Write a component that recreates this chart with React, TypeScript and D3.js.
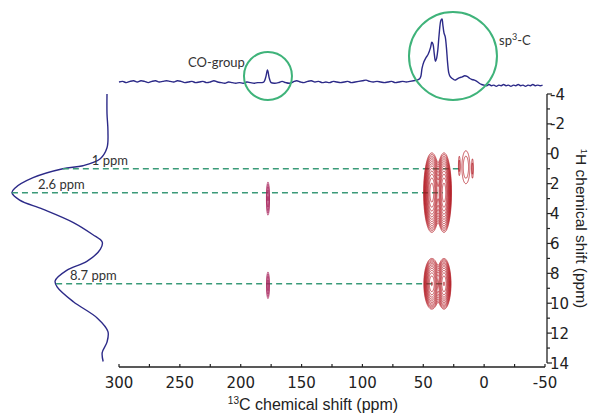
import React from "react";
import * as d3 from "d3";

// ---------- data ----------
// 13C projection (top): [ppm, intensity]
const topSpectrum: [number, number][] = [
  [300,0],[297,1],[294,-1],[291,1],[288,2],[285,0],[282,2],[279,1],[276,-1],[273,1],[270,2],[267,0],[264,1],[261,2],[258,1],[255,0],[252,2],[249,1],[246,-1],[243,0],[240,1],[237,-1],[234,0],[231,1],[228,-1],[225,0],[222,2],[219,0],[216,-1],[213,-2],[210,0],[207,-1],[204,-2],[201,-1],[198,-2],[195,0],[192,-1],[189,-2],[186,-1],[183,-1],[181,0],[179.5,7],[178,19],[176.5,6],[175,-1],[172,-2],[169,-1],[166,1],[163,-1],[160,-2],[157,0],[154,2],[151,0],[148,-1],[145,1],[142,2],[139,0],[136,1],[133,-1],[130,0],[127,-1],[124,1],[121,0],[118,-1],[115,0],[112,1],[109,-1],[106,0],[103,1],[100,2],[97,3],[94,1],[91,0],[88,1],[85,0],[82,-1],[79,0],[76,1],[73,-1],[70,0],[67,1],[64,0],[61,1],[58,2],[55,3],[53,5],[52,9],[51,22],[49.5,32],[48,38],[46,44],[44,55],[43,63],[42,60],[41,45],[40,33],[39,38],[38,52],[37,75],[35.5,98],[34.6,100],[34,92],[33,78],[32,72],[31,55],[30,30],[29,14],[28,9],[26.5,6],[24,3],[22,5],[20,7],[18,8],[16,10],[14,9],[12,6],[10,4],[8,3],[6,1],[4,-2],[2,-4],[0,-5],[-2,-6],[-4,-4],[-6,-6],[-8,-5],[-10,-7],[-12,-5],[-14,-6],[-16,-4],[-18,-6],[-20,-5],[-22,-7],[-24,-5],[-26,-6],[-28,-4],[-30,-6],[-32,-5],[-34,-7],[-36,-5],[-38,-6],[-40,-4],[-42,-6],[-44,-5],[-46,-6],[-48,-5]
];

// 1H projection (left): [ppm, intensity]
const leftSpectrum: [number, number][] = [
  [-4,0],[-2.7,0],[-1.5,-1],[-0.4,0],[0.33,7],[0.8,25],[1.0,46],[1.6,77],[2.3,96],[2.6,99],[3.1,91],[3.7,67],[4.6,35],[5.4,15],[5.9,5],[6.4,7],[7.2,21],[7.8,42],[8.5,54],[8.9,52],[9.9,35],[11,10],[11.9,-1],[12.6,0],[13.3,5],[13.9,4]
];

// 2D cross peaks
const peakC13 = [43, 33, 43, 33, 15, 20.5, 9.5];
const peakH1 = [2.6, 2.6, 8.7, 8.7, 0.9, 0.8, 1.0];
const peakAmp = [1, 1, 0.6, 0.6, 0.035, 0.025, 0.025];
const peakWidthC = [2.4, 2.2, 2.5, 2.2, 3.1, 0.6, 0.6];
const peakWidthH = [0.95, 0.95, 0.65, 0.65, 1.04, 0.6, 0.6];

const coPeakC13 = [177.6, 177.6];
const coPeakH1 = [3.0, 8.8];
const coPeakAmp = [0.07, 0.06];
const coPeakWidthC = [0.8, 0.8];
const coPeakWidthH = [0.7, 0.6];

const contourLevels = d3.range(13).map((k) => 0.02 * Math.pow(1.36, k));

// correlation lines
const dashH1 = [1, 2.6, 8.7];
const dashEndC13 = [20, 34, 34];
const dashLabels = ["1 ppm", "2.6 ppm", "8.7 ppm"];

const xTicks = [300, 250, 200, 150, 100, 50, 0, -50];
const xMinorTicks = d3.range(300, -51, -25);
const yTicks = [-4, -2, 0, 2, 4, 6, 8, 10, 12, 14];
const yMinorTicks = d3.range(-4, 15, 1);

// ---------- layout ----------
const W = 592, H = 414;
const xScale = d3.scaleLinear().domain([300, -50]).range([119, 545]);
const yScale = d3.scaleLinear().domain([-4, 14]).range([94, 363]);
const topScale = d3.scaleLinear().domain([0, 100]).range([82, 19]);
const leftScale = d3.scaleLinear().domain([0, 100]).range([107, 11]);
const X_AXIS_Y = 367;
const Y_AXIS_X = 547;
const labelX = [128, 38, 70];
const labelAnchor = ["end", "start", "start"];

const NAVY = "#2c2a88";
const GREEN = "#3fb37a";
const DASH = "#3a9a78";
const RED = "#b0161f";
const MAGENTA = "#a8275e";
const TEXT = "#333";

function buildContours(
  cs: number[], hs: number[], amps: number[], wc: number[], wh: number[],
  c0: number, c1: number, dC: number, h0: number, h1: number, dH: number
) {
  const nx = Math.round((c0 - c1) / dC) + 1;
  const ny = Math.round((h1 - h0) / dH) + 1;
  const values = new Float64Array(nx * ny);
  for (let j = 0; j < ny; j++) {
    const h = h0 + j * dH;
    for (let i = 0; i < nx; i++) {
      const c = c0 - i * dC;
      let v = 0;
      for (let p = 0; p < cs.length; p++) {
        const u = (c - cs[p]) / wc[p];
        const w = (h - hs[p]) / wh[p];
        const e = u * u + w * w;
        if (e < 40) v += amps[p] * Math.exp(-0.5 * e);
      }
      values[j * nx + i] = v;
    }
  }
  const polys = d3.contours().size([nx, ny]).thresholds(contourLevels)(Array.from(values));
  const paths: string[] = [];
  for (const poly of polys) {
    let d = "";
    for (const polygon of poly.coordinates) {
      for (const ring of polygon) {
        ring.forEach(([gx, gy], k) => {
          const px = xScale(c0 - (gx - 0.5) * dC);
          const py = yScale(h0 + (gy - 0.5) * dH);
          d += (k ? "L" : "M") + px.toFixed(2) + "," + py.toFixed(2);
        });
        d += "Z";
      }
    }
    if (d) paths.push(d);
  }
  return paths;
}

function interpLeft(ppm: number) {
  for (let i = 0; i < leftSpectrum.length - 1; i++) {
    const [a, va] = leftSpectrum[i];
    const [b, vb] = leftSpectrum[i + 1];
    if (ppm >= a && ppm <= b) return va + ((ppm - a) / (b - a)) * (vb - va);
  }
  return 0;
}

export default function App() {
  const mainPaths = React.useMemo(
    () => buildContours(peakC13, peakH1, peakAmp, peakWidthC, peakWidthH, 60, 0, 0.25, -3, 13, 0.03),
    []
  );
  const coPaths = React.useMemo(
    () => buildContours(coPeakC13, coPeakH1, coPeakAmp, coPeakWidthC, coPeakWidthH, 184, 171, 0.12, 0, 12, 0.03),
    []
  );

  const topLine = d3.line<[number, number]>()
    .x((d) => xScale(d[0]))
    .y((d) => topScale(d[1]))
    .curve(d3.curveCatmullRom.alpha(0.5))(topSpectrum) || "";

  const leftLine = d3.line<[number, number]>()
    .x((d) => leftScale(d[1]))
    .y((d) => yScale(d[0]))
    .curve(d3.curveCatmullRom.alpha(0.5))(leftSpectrum) || "";

  const labelFont = "Lato, 'Open Sans', sans-serif";
  const tickFont = "'DejaVu Sans', Verdana, sans-serif";
  const titleFont = "'Liberation Sans', Arial, sans-serif";

  return (
    <svg width={W} height={H} style={{ position: "absolute", left: 0, top: 0, background: "#fff" }}>
      <rect width={W} height={H} fill="#fff" />

      {/* top 13C projection */}
      <path d={topLine} fill="none" stroke={NAVY} strokeWidth={1.4} />
      {/* left 1H projection */}
      <path d={leftLine} fill="none" stroke={NAVY} strokeWidth={1.4} />

      {/* green circles */}
      <circle cx={xScale(177.6)} cy={76} r={24} fill="none" stroke={GREEN} strokeWidth={2} />
      <circle cx={xScale(25.6)} cy={56} r={44} fill="none" stroke={GREEN} strokeWidth={2} />
      <text x={188} y={67} fontFamily={labelFont} fontSize={13} fill={TEXT}>CO-group</text>
      <text x={499} y={45} fontFamily={labelFont} fontSize={13} fill={TEXT}>
        sp<tspan dy={-5} fontSize={9}>3</tspan><tspan dy={5}>-C</tspan>
      </text>

      {/* dashed correlation lines */}
      {dashH1.map((h, i) => (
        <g key={"d" + i}>
          <line
            x1={leftScale(interpLeft(h))} x2={xScale(dashEndC13[i])}
            y1={yScale(h)} y2={yScale(h)}
            stroke={DASH} strokeWidth={1.5} strokeDasharray="6,4"
          />
          <text x={labelX[i]} y={yScale(h) - 3.5} textAnchor={labelAnchor[i] as any}
            fontFamily={labelFont} fontSize={13} fill={TEXT}>{dashLabels[i]}</text>
        </g>
      ))}

      {/* contours */}
      {mainPaths.map((d, i) => (
        <path key={"m" + i} d={d} fill="none" stroke={RED} strokeWidth={0.75} />
      ))}
      {coPaths.map((d, i) => (
        <path key={"c" + i} d={d} fill="none" stroke={MAGENTA} strokeWidth={0.8} />
      ))}

      {/* x axis */}
      <line x1={xScale(300)} x2={xScale(-50)} y1={X_AXIS_Y} y2={X_AXIS_Y} stroke="#222" strokeWidth={1.3} />
      {xMinorTicks.map((t) => (
        <line key={"xm" + t} x1={xScale(t)} x2={xScale(t)} y1={X_AXIS_Y} y2={X_AXIS_Y - 3} stroke="#222" strokeWidth={1.2} />
      ))}
      {xTicks.map((t) => (
        <text key={"xt" + t} x={xScale(t)} y={388} textAnchor="middle" fontFamily={tickFont} fontSize={15} fill="#222">{t}</text>
      ))}
      <text x={313} y={410} textAnchor="middle" fontFamily={titleFont} fontSize={16} fill="#222">
        <tspan fontSize={10} dy={-6}>13</tspan><tspan dy={6}>C chemical shift (ppm)</tspan>
      </text>

      {/* y axis */}
      <line x1={Y_AXIS_X} x2={Y_AXIS_X} y1={yScale(-4)} y2={yScale(14)} stroke="#222" strokeWidth={1.3} />
      {yMinorTicks.map((t) => (
        <line key={"ym" + t} x1={Y_AXIS_X} x2={Y_AXIS_X + (t % 2 === 0 ? 5 : 3)} y1={yScale(t)} y2={yScale(t)} stroke="#222" strokeWidth={1.2} />
      ))}
      {yTicks.map((t) => (
        <text key={"yt" + t} x={Y_AXIS_X + 3} y={yScale(t) + 5.5} fontFamily={tickFont} fontSize={15} fill="#222">{t}</text>
      ))}
      <text transform={`translate(576,${yScale(5)}) rotate(90)`} textAnchor="middle" fontFamily={titleFont} fontSize={15.5} fill="#222">
        <tspan fontSize={9.5} dy={-5}>1</tspan><tspan dy={5}>H chemical shift (ppm)</tspan>
      </text>
    </svg>
  );
}
